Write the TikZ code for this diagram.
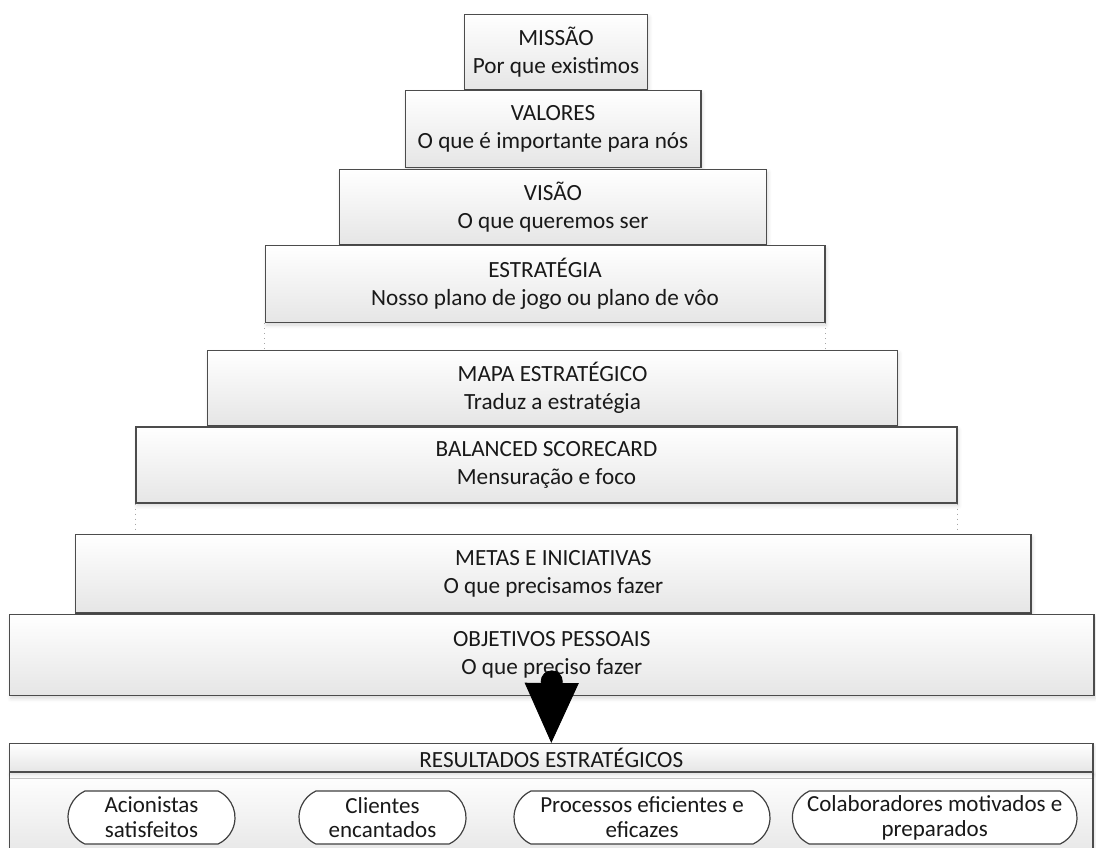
\documentclass[tikz,border=0pt]{standalone}
\usepackage{fontspec}
\setmainfont{Carlito}
\usepackage{xcolor}
\usepackage{tikz}
\usetikzlibrary{positioning, arrows.meta, shapes.misc, calc, shadows.blur}

\begin{document}
\begin{tikzpicture}[
    x=0.5pt, y=-0.5pt,
    nivel/.style={rectangle, draw=black!70, line width=0.7pt, top color=white, bottom color=black!10,
        align=center, inner sep=0pt, text=black!90, font=\fontsize{11.6}{13.8}\selectfont,
        blur shadow={shadow blur steps=6, shadow xshift=0.6pt, shadow yshift=-1.4pt, shadow opacity=15}},
    resultado/.style={rounded rectangle, rounded rectangle arc length=130, draw=black!75, line width=0.6pt,
        fill=white, align=center, inner sep=0pt, minimum height=26.5pt, text=black!90,
        font=\fontsize{11.5}{12.4}\selectfont},
    guia/.style={dotted, black!35, line width=0.5pt},
]
\useasboundingbox (0,0) rectangle (1096,847);

% piramide
\node[nivel, minimum width=91.5pt, minimum height=37.5pt] (missao) at (556,52) {MISSÃO\\Por que existimos};
\node[nivel, minimum width=147.8pt, minimum height=38.5pt] (valores) at (553,129) {VALORES\\O que é importante para nós};
\node[nivel, minimum width=213.7pt, minimum height=37.5pt] (visao) at (553,207) {VISÃO\\O que queremos ser};
\node[nivel, minimum width=279.8pt, minimum height=38.3pt] (estrategia) at (545,284) {ESTRATÉGIA\\Nosso plano de jogo ou plano de vôo};

\node[nivel, minimum width=345.2pt, minimum height=37.5pt] (mapa) at (552.5,388) {MAPA ESTRATÉGICO\\Traduz a estratégia};
\node[nivel, minimum width=410.5pt, minimum height=38pt] (bsc) at (546.5,465) {BALANCED SCORECARD\\Mensuração e foco};

\node[nivel, minimum width=477.7pt, minimum height=39.3pt] (metas) at (553.4,573.6) {METAS E INICIATIVAS\\O que precisamos fazer};
\node[nivel, minimum width=542.2pt, minimum height=40.7pt] (objetivos) at (551.8,655) {OBJETIVOS PESSOAIS\\O que preciso fazer};

% guias pontilhadas
\draw[guia] (estrategia.south west) -- (estrategia.south west |- mapa.north);
\draw[guia] (estrategia.south east) -- (estrategia.south east |- mapa.north);
\draw[guia] (bsc.south west) -- (bsc.south west |- metas.north);
\draw[guia] (bsc.south east) -- (bsc.south east |- metas.north);

% resultados
\node[nivel, minimum width=541.7pt, minimum height=44pt] (corpo) at (551.3,816) {};
\node[nivel, minimum width=541.7pt, minimum height=14.1pt] (resultados) at (551.3,757.7) {RESULTADOS ESTRATÉGICOS};

\node[resultado, minimum width=83.5pt] (acionistas) at (151.5,817.5) {Acionistas\\satisfeitos};
\node[resultado, minimum width=83.5pt] (clientes) at (382.5,817.5) {Clientes\\encantados};
\node[resultado, minimum width=128pt] (processos) at (642,817.5) {Processos eficientes e\\eficazes};
\node[resultado, minimum width=142.3pt] (colaboradores) at (934.7,817.5) {Colaboradores motivados e\\preparados};

\draw[{Circle[length=11pt]}-{Triangle[width=27pt, length=30pt]}, black] ([yshift=13pt]objetivos.south) -- (resultados.north);

\end{tikzpicture}
\end{document}
